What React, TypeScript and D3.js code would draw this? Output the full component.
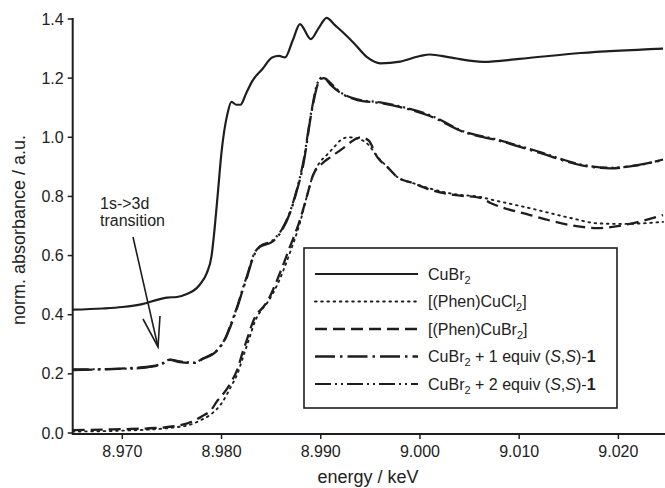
import React from 'react';
import * as d3 from 'd3';

// energy (keV) / normalised absorbance
const cuBr2E = [8.965, 8.968, 8.970, 8.972, 8.9735, 8.9745, 8.9755, 8.9765, 8.9775, 8.978, 8.9785, 8.979, 8.9793, 8.9796, 8.980, 8.9806, 8.981, 8.9815, 8.9819, 8.9825, 8.9831, 8.9841, 8.9851, 8.9858, 8.9864, 8.9872, 8.9879, 8.9890, 8.9898, 8.9906, 8.9914, 8.9922, 8.9933, 8.9947, 8.996, 8.998, 9.000, 9.001, 9.003, 9.0064, 9.010, 9.0162, 9.0245];
const cuBr2Y = [0.417, 0.421, 0.426, 0.436, 0.45, 0.458, 0.46, 0.47, 0.49, 0.51, 0.54, 0.60, 0.69, 0.80, 0.95, 1.08, 1.12, 1.11, 1.11, 1.15, 1.19, 1.23, 1.27, 1.275, 1.27, 1.33, 1.383, 1.332, 1.37, 1.404, 1.38, 1.356, 1.32, 1.27, 1.25, 1.256, 1.275, 1.28, 1.27, 1.255, 1.265, 1.285, 1.30];

const phenCl2E = [8.965, 8.970, 8.975, 8.977, 8.978, 8.979, 8.980, 8.981, 8.9816, 8.9822, 8.9828, 8.9834, 8.9839, 8.9846, 8.9856, 8.9869, 8.9879, 8.9886, 8.9892, 8.9899, 8.9906, 8.9913, 8.9920, 8.9928, 8.9938, 8.9948, 8.9957, 8.9967, 8.9977, 8.9993, 9.0013, 9.0034, 9.0061, 9.0071, 9.0111, 9.0152, 9.0179, 9.0205, 9.0245];
const phenCl2Y = [0.005, 0.008, 0.018, 0.03, 0.045, 0.065, 0.10, 0.16, 0.20, 0.26, 0.32, 0.38, 0.41, 0.44, 0.50, 0.61, 0.71, 0.80, 0.87, 0.915, 0.94, 0.965, 0.99, 1.0, 0.995, 0.975, 0.935, 0.90, 0.866, 0.845, 0.824, 0.808, 0.798, 0.79, 0.76, 0.727, 0.709, 0.707, 0.714];

const phenBr2E = [8.965, 8.9688, 8.970, 8.9728, 8.975, 8.977, 8.978, 8.979, 8.9796, 8.980, 8.9811, 8.9816, 8.9821, 8.9826, 8.9831, 8.9836, 8.984, 8.9847, 8.9856, 8.9869, 8.9879, 8.9886, 8.9892, 8.9902, 8.991, 8.9923, 8.9933, 8.9940, 8.9948, 8.9957, 8.9967, 8.9977, 8.9993, 9.0013, 9.0034, 9.0061, 9.0071, 9.0111, 9.0152, 9.0179, 9.0205, 9.0245];
const phenBr2Y = [0.01, 0.012, 0.013, 0.016, 0.022, 0.038, 0.056, 0.08, 0.11, 0.125, 0.18, 0.215, 0.27, 0.32, 0.37, 0.405, 0.418, 0.45, 0.517, 0.63, 0.72, 0.80, 0.87, 0.913, 0.933, 0.964, 0.99, 1.0, 0.99, 0.933, 0.90, 0.866, 0.845, 0.82, 0.805, 0.795, 0.778, 0.737, 0.703, 0.693, 0.703, 0.737];

const eq1E = [8.965, 8.9711, 8.9738, 8.9748, 8.9758, 8.9773, 8.9781, 8.9796, 8.9804, 8.9809, 8.9816, 8.9822, 8.9826, 8.9832, 8.9839, 8.9851, 8.9861, 8.9869, 8.9876, 8.9882, 8.9891, 8.9897, 8.9902, 8.9910, 8.9920, 8.9937, 8.996, 8.9983, 9.001, 9.0044, 9.0078, 9.0121, 9.0162, 9.0192, 9.0219, 9.0245];
const eq1Y = [0.213, 0.22, 0.23, 0.247, 0.24, 0.237, 0.25, 0.28, 0.32, 0.36, 0.426, 0.49, 0.53, 0.595, 0.63, 0.646, 0.686, 0.744, 0.82, 0.90, 1.09, 1.18, 1.205, 1.177, 1.15, 1.126, 1.116, 1.10, 1.072, 1.018, 0.99, 0.947, 0.906, 0.895, 0.906, 0.923];

const eq2E = [8.965, 8.9711, 8.9738, 8.9748, 8.9758, 8.9773, 8.9781, 8.9796, 8.9804, 8.9809, 8.9816, 8.9822, 8.9826, 8.9832, 8.9839, 8.9851, 8.9861, 8.9869, 8.9876, 8.9882, 8.9891, 8.9897, 8.9903, 8.9911, 8.9920, 8.9937, 8.996, 8.9983, 9.001, 9.0044, 9.0078, 9.0121, 9.0162, 9.0192, 9.0219, 9.0245];
const eq2Y = [0.215, 0.218, 0.232, 0.248, 0.242, 0.238, 0.252, 0.282, 0.322, 0.365, 0.43, 0.495, 0.535, 0.6, 0.632, 0.65, 0.69, 0.748, 0.825, 0.91, 1.095, 1.185, 1.2, 1.18, 1.152, 1.128, 1.118, 1.102, 1.075, 1.02, 0.992, 0.95, 0.908, 0.897, 0.905, 0.925];

const xTicks = [8.970, 8.980, 8.990, 9.000, 9.010, 9.020];
const yTicks = [0.0, 0.2, 0.4, 0.6, 0.8, 1.0, 1.2, 1.4];

const series = [
  { name: 'CuBr2', xs: cuBr2E, ys: cuBr2Y, dash: 'none', w: 2.2 },
  { name: 'phenCl2', xs: phenCl2E, ys: phenCl2Y, dash: '1.6,4.6', w: 1.9 },
  { name: 'phenBr2', xs: phenBr2E, ys: phenBr2Y, dash: '12,6', w: 2.3 },
  { name: 'eq1', xs: eq1E, ys: eq1Y, dash: '20,5,2.5,5', w: 2.3 },
  { name: 'eq2', xs: eq2E, ys: eq2Y, dash: '16,4,2,4,2,4', w: 2.2 },
];

const W = 665;
const H = 488;
const left = 72.7;
const right = 668;
const top = 19;
const bottom = 433;
const font = 'Liberation Sans, Arial, sans-serif';
const ink = '#1e1e1e';

export default function App() {
  const x = d3.scaleLinear().domain([8.965, 9.025]).range([left, right]);
  const y = d3.scaleLinear().domain([0, 1.4]).range([bottom, top]);
  const line = d3.line<number>()
    .x((d, i, arr) => 0)
    .curve(d3.curveMonotoneX);

  const pathFor = (xs: number[], ys: number[]) =>
    d3.line<[number, number]>()
      .x(d => x(d[0]))
      .y(d => y(d[1]))
      .curve(d3.curveMonotoneX)(xs.map((v, i) => [v, ys[i]] as [number, number])) || '';

  const legendRows = [0, 1, 2, 3, 4].map(i => 274 + i * 27.5);
  const lx0 = 315, lx1 = 418, tx = 428;

  return (
    <svg width={W} height={H} style={{ position: 'absolute', left: 0, top: 0 }}>
      <rect width={W} height={H} fill="#fff" />
      <defs>
        <clipPath id="plot">
          <rect x={left} y={0} width={W - left} height={bottom + 1} />
        </clipPath>
      </defs>

      <g clipPath="url(#plot)" fill="none" stroke={ink} strokeLinejoin="round">
        {series.map(s => (
          <path key={s.name} d={pathFor(s.xs, s.ys)} strokeWidth={s.w}
            strokeDasharray={s.dash === 'none' ? undefined : s.dash}
            strokeLinecap={s.name === 'phenCl2' ? 'round' : 'butt'} />
        ))}
      </g>

      {/* axes */}
      <g stroke={ink} strokeWidth={2} fill="none">
        <line x1={left} x2={left} y1={top - 1} y2={bottom + 1} />
        <line x1={left - 1} x2={W} y1={bottom + 1} y2={bottom + 1} />
        {yTicks.map(t => (
          <line key={t} x1={left - 5} x2={left} y1={y(t)} y2={y(t)} strokeWidth={1.5} />
        ))}
        {xTicks.map(t => (
          <line key={t} x1={x(t)} x2={x(t)} y1={bottom + 1} y2={bottom + 6} strokeWidth={1.5} />
        ))}
      </g>
      <g fontFamily={font} fontSize={16} fill="#222">
        {yTicks.map(t => (
          <text key={t} x={left - 9} y={y(t) + 5.5} textAnchor="end">{d3.format('.1f')(t)}</text>
        ))}
        {xTicks.map(t => (
          <text key={t} x={x(t)} y={bottom + 24} textAnchor="middle">{d3.format('.3f')(t)}</text>
        ))}
      </g>
      <text x={368} y={483} textAnchor="middle" fontFamily={font} fontSize={18} fill="#222">energy / keV</text>
      <text transform="translate(25,230) rotate(-90)" textAnchor="middle" fontFamily={font} fontSize={18} fill="#222">norm. absorbance / a.u.</text>

      {/* annotation */}
      <g fontFamily={font} fontSize={16} fill="#222">
        <text x={100} y={209}>1s-&gt;3d</text>
        <text x={100} y={226}>transition</text>
      </g>
      <g stroke={ink} strokeWidth={1.6} fill="none">
        <line x1={133} y1={237} x2={158} y2={347} />
        <polyline points="143,319 158,347 160,316" />
      </g>

      {/* legend */}
      <rect x={304} y={248} width={313} height={160} fill="#fff" stroke={ink} strokeWidth={1.6} />
      <g fill="none" stroke={ink}>
        {series.map((s, i) => (
          <line key={s.name} x1={lx0} x2={lx1} y1={legendRows[i]} y2={legendRows[i]} strokeWidth={s.w}
            strokeDasharray={s.dash === 'none' ? undefined : s.dash}
            strokeLinecap={s.name === 'phenCl2' ? 'round' : 'butt'} />
        ))}
      </g>
      <g fontFamily={font} fontSize={16} fill="#222">
        <text x={tx} y={legendRows[0] + 5.5}>CuBr<tspan fontSize={11} dy={4}>2</tspan></text>
        <text x={tx} y={legendRows[1] + 5.5}>[(Phen)CuCl<tspan fontSize={11} dy={4}>2</tspan><tspan dy={-4}>]</tspan></text>
        <text x={tx} y={legendRows[2] + 5.5}>[(Phen)CuBr<tspan fontSize={11} dy={4}>2</tspan><tspan dy={-4}>]</tspan></text>
        <text x={tx} y={legendRows[3] + 5.5}>CuBr<tspan fontSize={11} dy={4}>2</tspan><tspan dy={-4}> + 1 equiv (</tspan><tspan fontStyle="italic">S</tspan>,<tspan fontStyle="italic">S</tspan>)-<tspan fontWeight="bold">1</tspan></text>
        <text x={tx} y={legendRows[4] + 5.5}>CuBr<tspan fontSize={11} dy={4}>2</tspan><tspan dy={-4}> + 2 equiv (</tspan><tspan fontStyle="italic">S</tspan>,<tspan fontStyle="italic">S</tspan>)-<tspan fontWeight="bold">1</tspan></text>
      </g>
    </svg>
  );
}
